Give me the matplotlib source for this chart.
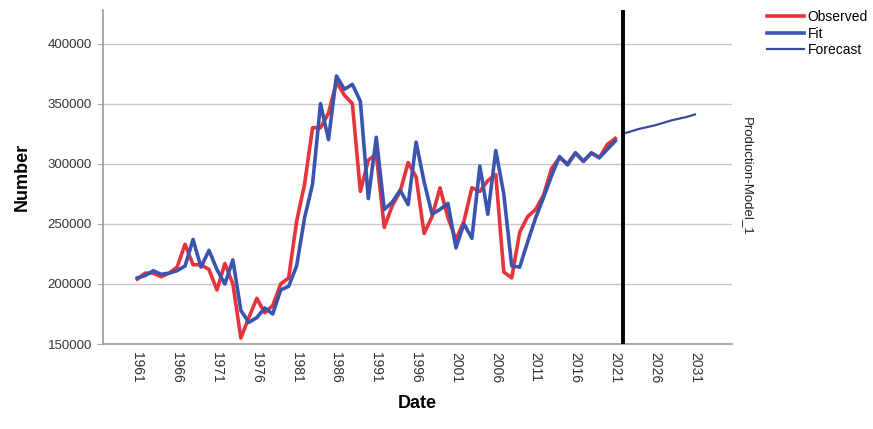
import numpy as np
import matplotlib
matplotlib.use("Agg")
import matplotlib.pyplot as plt

plt.rcParams['font.family'] = ['Liberation Sans', 'DejaVu Sans']

# yearly production, observed vs. model fit
years = np.arange(1961, 2022)
observed = [
    204000, 209000, 209000, 206000, 209000, 214000, 233000, 216000, 216000, 212000,
    195000, 217000, 200000, 155000, 172000, 188000, 176000, 182000, 200000, 205000,
    252000, 283000, 330000, 330000, 342000, 368000, 357000, 350000, 277000, 303000,
    308000, 247000, 265000, 277000, 301000, 289000, 242000, 256000, 280000, 255000,
    237000, 252000, 280000, 277000, 286000, 291000, 210000, 205000, 243000, 256000,
    262000, 274000, 296000, 305000, 300000, 309000, 302000, 309000, 305000, 316000,
    321000,
]
fit = [
    205000, 207000, 211000, 208000, 209000, 211000, 215000, 237000, 214000, 228000,
    212000, 200000, 220000, 178000, 168000, 172000, 180000, 175000, 195000, 198000,
    215000, 255000, 283000, 350000, 320000, 373000, 362000, 366000, 352000, 271000,
    322000, 262000, 268000, 278000, 266000, 318000, 285000, 258000, 262000, 267000,
    230000, 250000, 238000, 298000, 258000, 311000, 275000, 215000, 214000, 235000,
    255000, 272000, 290000, 306000, 299000, 309000, 302000, 309000, 305000, 312000,
    319000,
]

forecast_years = np.arange(2022, 2032)
forecast = [325000, 327000, 329000, 330500, 332000, 334000, 336000, 337500, 339000, 341000]

tick_years = np.arange(1961, 2032, 5)
y_ticks = [150000, 200000, 250000, 300000, 350000, 400000]
forecast_start = 2022


def main():
    fig = plt.figure(figsize=(8.73, 4.29), dpi=100)
    ax = fig.add_axes([0.118, 0.198, 0.7205, 0.779])

    ax.plot(years, observed, color='#e8323c', lw=2.6, label='Observed', zorder=3)
    ax.plot(years, fit, color='#3a55b0', lw=2.6, label='Fit', zorder=4)
    ax.plot(forecast_years, forecast, color='#3b4a9e', lw=1.6, label='Forecast', zorder=4)

    ax.axvline(forecast_start, color='black', lw=2.8, zorder=5)

    ax.set_xlim(1956.7, 2035.65)
    ax.set_ylim(150000, 428000)
    ax.set_xticks(tick_years)
    ax.set_xticklabels([str(y) for y in tick_years], rotation=270, fontsize=10, color='#333333')
    ax.set_yticks(y_ticks)
    ax.set_yticklabels([str(v) for v in y_ticks], fontsize=9.5, color='#333333')
    ax.tick_params(axis='x', length=0, pad=6)
    ax.tick_params(axis='y', length=4, color='#aaaaaa', pad=4)

    ax.grid(axis='y', color='#c8c8c8', lw=1)
    ax.set_axisbelow(True)
    for side in ['top', 'right']:
        ax.spines[side].set_visible(False)
    for side in ['left', 'bottom']:
        ax.spines[side].set_color('#9a9a9a')
        ax.spines[side].set_linewidth(1.2)

    ax.set_xlabel('Date', fontsize=13, fontweight='bold', labelpad=8)
    ax.set_ylabel('Number', fontsize=13, fontweight='bold', labelpad=12)

    fig.text(0.855, 0.59, 'Production-Model_1', rotation=270, fontsize=9.5,
             color='#222222', ha='center', va='center')

    fig.legend(loc='upper left', bbox_to_anchor=(0.868, 1.0), frameon=False,
               fontsize=10, handlelength=2.6, handletextpad=0.3,
               labelspacing=0.2, borderaxespad=0.3)

    fig.savefig('out.png', dpi=100)


if __name__ == "__main__":
    main()
